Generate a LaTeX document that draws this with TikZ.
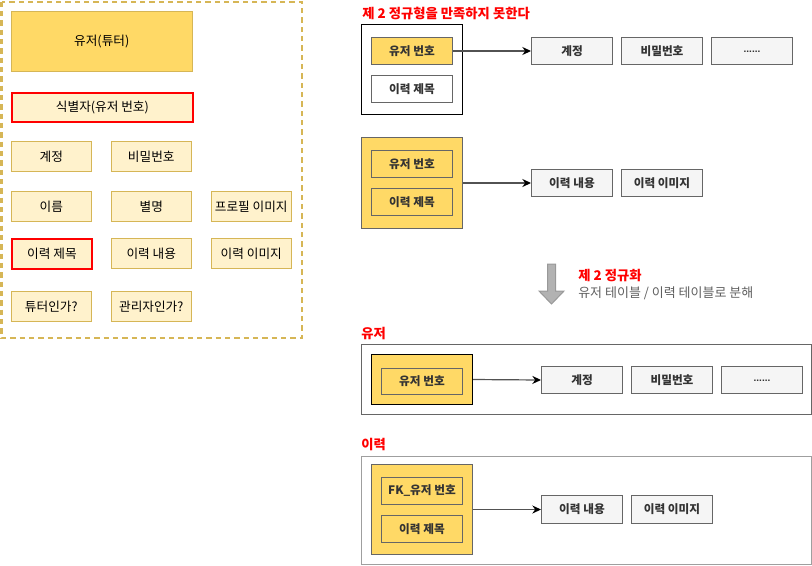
\documentclass[tikz,border=0pt]{standalone}
\usepackage{fontspec}
\setmainfont{Noto Sans CJK KR}
\newfontfamily\latinf{Liberation Sans}
\usetikzlibrary{arrows.meta}
\definecolor{yfill}{HTML}{FFD966}
\definecolor{ylight}{HTML}{FFF2CC}
\definecolor{ydraw}{HTML}{D6B656}
\definecolor{gfill}{HTML}{F5F5F5}
\definecolor{gdraw}{HTML}{666666}
\definecolor{txtg}{HTML}{333333}
\definecolor{subg}{HTML}{5F5F5F}
\definecolor{redc}{HTML}{FF0000}
\newcommand{\mydots}{\raisebox{-1.5pt}{\latinf\bfseries\fontsize{7.5}{9}\selectfont ......}}
\tikzset{
  px/.style={x=0.75pt,y=-0.75pt},
  lcell/.style={draw=ydraw, fill=ylight, anchor=north west, inner sep=0pt,
    minimum width=60pt, minimum height=22.5pt, font=\fontsize{9.5}{11}\selectfont, text=black},
  redcell/.style={lcell, draw=redc, line width=1.4pt},
  rcell/.style={draw=gdraw, anchor=north west, inner sep=0pt, line width=0.75pt,
    minimum width=60.75pt, minimum height=20.25pt, font=\fontsize{8.75}{10}\bfseries\selectfont, text=txtg},
  ycell/.style={rcell, fill=yfill},
  wcell/.style={rcell, fill=white},
  gcell/.style={rcell, fill=gfill},
  grp/.style={anchor=north west, inner sep=0pt, line width=0.75pt},
  ttl/.style={anchor=west, inner sep=0pt, text=redc, font=\fontsize{10}{12}\bfseries\selectfont},
  conn/.style={draw=gdraw!80!black, line width=0.9pt, -{Stealth[black,length=6.5pt,width=6pt]}},
}
\begin{document}
\begin{tikzpicture}[px]
\useasboundingbox (0,0) rectangle (812,565);
% left panel
\draw[ydraw, line width=1.5pt, dash pattern=on 4pt off 3pt] (1.5,1.5) rectangle (301.5,338);
\node[lcell, fill=yfill, minimum width=135.75pt, minimum height=45pt] (user) at (11,11) {유저(튜터)};
\node[redcell, minimum width=135.75pt, minimum height=21.75pt] (ident) at (11,92) {식별자(유저 번호)};
\node[lcell] (acct) at (11,141) {계정};
\node[lcell] (pw) at (111,141) {비밀번호};
\node[lcell] (name) at (11,191) {이름};
\node[lcell] (nick) at (111,191) {별명};
\node[lcell] (prof) at (211,191) {프로필 이미지};
\node[redcell] (htitle) at (11,238) {이력 제목};
\node[lcell] (hcont) at (111,238) {이력 내용};
\node[lcell] (himg) at (211,238) {이력 이미지};
\node[lcell] (tutor) at (11,291) {튜터인가?};
\node[lcell] (admin) at (111,291) {관리자인가?};

% top right: not 2NF
\node[ttl] (t1) at (362,13) {제 2 정규형을 만족하지 못한다};
\node[grp, draw=black, fill=white, minimum width=75.75pt, minimum height=67.5pt] (blk) at (361,24) {};
\node[ycell] (u1) at (371,37) {유저 번호};
\node[wcell] (ti1) at (371,75) {이력 제목};
\node[gcell] (a1) at (531,37) {계정};
\node[gcell] (a2) at (621,37) {비밀번호};
\node[gcell] (a3) at (711,37) {\mydots};
\draw[conn] (u1.east) -- (a1.west);

\node[grp, draw=gdraw, fill=yfill, minimum width=75.75pt, minimum height=68.25pt] (yb) at (361,137) {};
\node[ycell] (u2) at (371,150) {유저 번호};
\node[ycell] (ti2) at (371,188) {이력 제목};
\node[gcell] (c1) at (531,169) {이력 내용};
\node[gcell] (c2) at (621,169) {이력 이미지};
\draw[conn] (yb.east) -- (c1.west);

% big arrow and caption
\draw[draw=gray!80, fill=gray!60, line width=0.75pt]
  (547.5,264) -- (555.5,264) -- (555.5,291) -- (564,291) -- (551.5,304) -- (539,291) -- (547.5,291) -- cycle;
\node[ttl] (t2) at (578,276) {제 2 정규화};
\node[anchor=west, inner sep=0pt, text=subg, font=\fontsize{9.75}{12}\selectfont] (t3) at (578,293) {유저 테이블 / 이력 테이블로 분해};

% user table
\node[ttl] (t4) at (361,334) {유저};
\node[grp, draw=gdraw, fill=white, minimum width=337.5pt, minimum height=52.5pt] (ub) at (361,344) {};
\node[grp, draw=black, fill=yfill, minimum width=75.75pt, minimum height=37.5pt] (yk) at (371,354) {};
\node[ycell, minimum height=19.5pt] (u3) at (381,368) {유저 번호};
\node[gcell] (d1) at (541,366) {계정};
\node[gcell] (d2) at (631,366) {비밀번호};
\node[gcell] (d3) at (721,366) {\mydots};
\draw[conn] (yk.east) -- (d1.west);

% history table
\node[ttl] (t5) at (361,445) {이력};
\node[grp, draw=gray!75, fill=white, minimum width=337.5pt, minimum height=81pt] (hb) at (361,456) {};
\node[grp, draw=gdraw, fill=yfill, minimum width=75.75pt, minimum height=67.5pt] (yh) at (371,464) {};
\node[ycell] (fk) at (381,477) {FK\_유저 번호};
\node[ycell] (ti3) at (381,515) {이력 제목};
\node[gcell, minimum height=21pt] (e1) at (541,495) {이력 내용};
\node[gcell, minimum height=21pt] (e2) at (631,495) {이력 이미지};
\draw[conn] (yh.east) -- (e1.west);
\end{tikzpicture}
\end{document}
